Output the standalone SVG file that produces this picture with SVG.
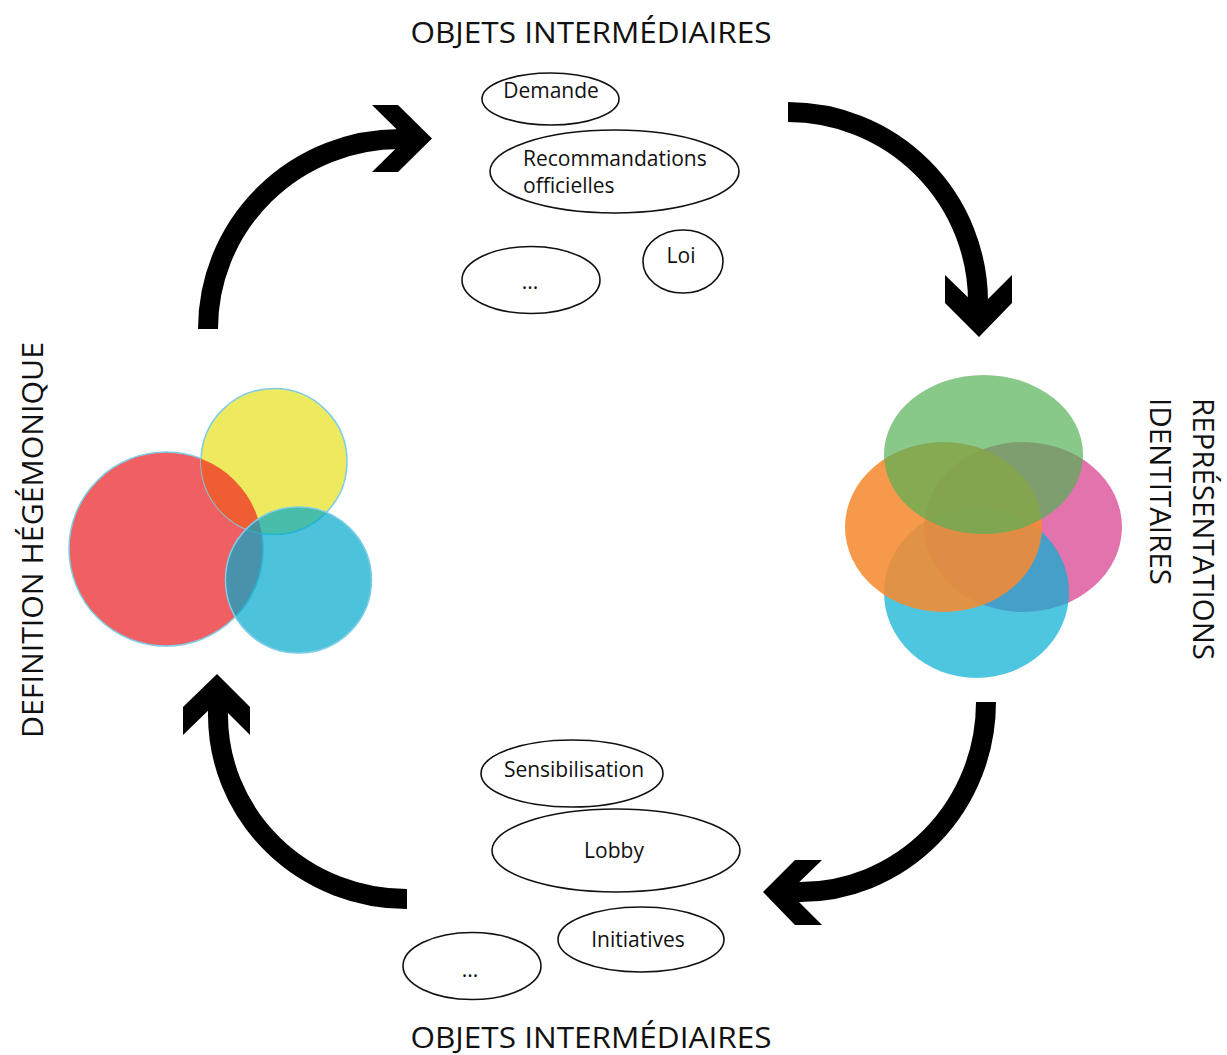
<svg xmlns="http://www.w3.org/2000/svg" width="1227" height="1055" viewBox="0 0 1227 1055">
  <style>
    .title { font-family: "Open Sans", "Noto Sans", "Liberation Sans", sans-serif; font-size: 30px; fill: #111; }
    .lbl { font-family: "Open Sans", "Noto Sans", "Liberation Sans", sans-serif; font-size: 21px; fill: #111; }
    .bubble { fill: #fff; stroke: #111; stroke-width: 1.6; }
    .arc { fill: none; stroke: #000; stroke-width: 20; stroke-linecap: butt; }
    .head { fill: #000; }
    .vring { stroke: #7fcde5; stroke-width: 1.5; }
  </style>
  <defs>
    <clipPath id="clipYellow"><circle cx="274" cy="461.5" r="73"/></clipPath>
  </defs>
  <rect width="1227" height="1055" fill="#fff"/>

  <g id="connectors">
    <path class="arc" d="M208,329 A192,190 0 0 1 400,139 L407,139"/>
    <polygon class="head" points="372,105 398,105 432,138.5 398,172 372,172 406,138.5"/>
    <path class="arc" d="M788,112 A190,190 0 0 1 978,302 L978,309"/>
    <polygon class="head" points="945,275 945,303 979,337 1012,303 1012,275 979,308"/>
    <path class="arc" d="M986,702 A186,190 0 0 1 800,892 L788,892"/>
    <polygon class="head" points="763,892 795,860 822,860 789,892 822,925 795,925"/>
    <path class="arc" d="M407,899 A189,184 0 0 1 218,715 L218,701"/>
    <polygon class="head" points="217,674 250,707 250,735 217,702 183,735 183,707"/>
  </g>

  <g id="title-top">
    <text class="title" x="591" y="43" text-anchor="middle" textLength="361" lengthAdjust="spacingAndGlyphs">OBJETS INTERMÉDIAIRES</text>
  </g>
  <g id="title-bottom">
    <text class="title" x="591" y="1048" text-anchor="middle" textLength="361" lengthAdjust="spacingAndGlyphs">OBJETS INTERMÉDIAIRES</text>
  </g>
  <g id="title-left">
    <text class="title" transform="translate(43,540) rotate(-90)" x="0" y="0" text-anchor="middle" textLength="396" lengthAdjust="spacingAndGlyphs">DEFINITION HÉGÉMONIQUE</text>
  </g>
  <g id="title-right">
    <text class="title" transform="translate(1193,398) rotate(90)" x="0" y="0" textLength="262" lengthAdjust="spacingAndGlyphs">REPRÉSENTATIONS</text>
    <text class="title" transform="translate(1150,398) rotate(90)" x="0" y="0" textLength="187" lengthAdjust="spacingAndGlyphs">IDENTITAIRES</text>
  </g>

  <g id="venn-left">
    <circle class="vring" cx="166" cy="549" r="97" fill="#f06063"/>
    <circle class="vring" cx="274" cy="461.5" r="73" fill="#eeea60"/>
    <circle cx="166" cy="549" r="97" fill="#ef5d32" clip-path="url(#clipYellow)"/>
    <circle class="vring" cx="298.5" cy="580" r="73" fill="#00a9ca" fill-opacity="0.7"/>
  </g>

  <g id="venn-right">
    <ellipse cx="1023" cy="527" rx="99" ry="85" fill="#e273ad"/>
    <ellipse cx="976.5" cy="592.5" rx="92.5" ry="85.5" fill="#0ab0d2" fill-opacity="0.72"/>
    <ellipse cx="943.5" cy="527" rx="98.5" ry="85" fill="#f58b31" fill-opacity="0.88"/>
    <ellipse cx="983.5" cy="454.5" rx="99.5" ry="79.5" fill="#55b055" fill-opacity="0.7"/>
  </g>

  <g id="node-demande">
    <ellipse class="bubble" cx="550.5" cy="99" rx="68.5" ry="26"/>
    <text class="lbl" x="551" y="98" text-anchor="middle">Demande</text>
  </g>
  <g id="node-recommandations">
    <ellipse class="bubble" cx="614.5" cy="171.5" rx="124.5" ry="41.5"/>
    <text class="lbl" x="523" y="166">Recommandations</text>
    <text class="lbl" x="523" y="193">officielles</text>
  </g>
  <g id="node-etc-top">
    <ellipse class="bubble" cx="531" cy="280" rx="69" ry="33.5"/>
    <text class="lbl" x="530" y="289" text-anchor="middle">...</text>
  </g>
  <g id="node-loi">
    <ellipse class="bubble" cx="683" cy="261.5" rx="40" ry="31.5"/>
    <text class="lbl" x="681" y="263" text-anchor="middle">Loi</text>
  </g>

  <g id="node-sensibilisation">
    <ellipse class="bubble" cx="572" cy="773.5" rx="91" ry="33.5"/>
    <text class="lbl" x="574" y="777" text-anchor="middle">Sensibilisation</text>
  </g>
  <g id="node-lobby">
    <ellipse class="bubble" cx="616" cy="850.5" rx="124" ry="41.5"/>
    <text class="lbl" x="614" y="858" text-anchor="middle">Lobby</text>
  </g>
  <g id="node-initiatives">
    <ellipse class="bubble" cx="641" cy="939.5" rx="83" ry="32.5"/>
    <text class="lbl" x="638" y="947" text-anchor="middle">Initiatives</text>
  </g>
  <g id="node-etc-bottom">
    <ellipse class="bubble" cx="472" cy="966" rx="69" ry="33.5"/>
    <text class="lbl" x="470" y="977" text-anchor="middle">...</text>
  </g>
</svg>
